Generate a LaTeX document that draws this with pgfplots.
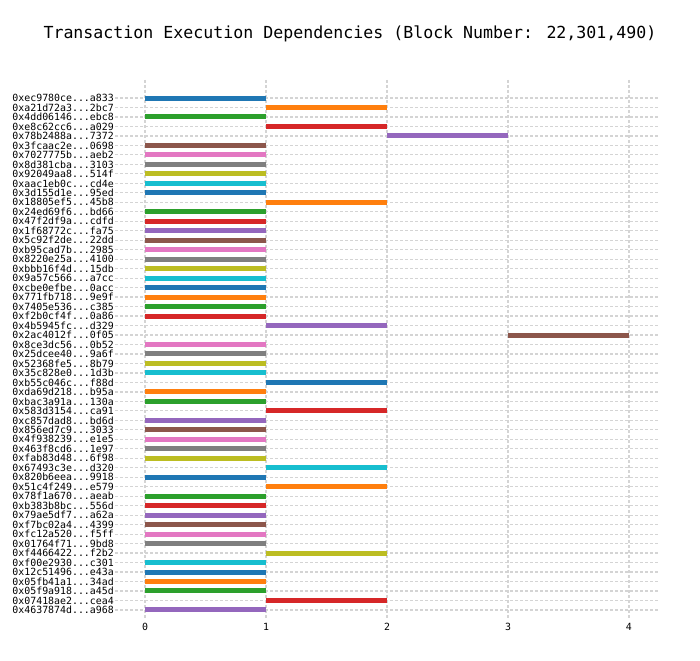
\documentclass[border=0pt]{standalone}
\usepackage{pgfplots}
\pgfplotsset{compat=1.18}
\usepackage{fontspec}
\setmainfont{DejaVu Sans Mono}
\setmonofont{DejaVu Sans Mono}
\newcommand\dd{...}
\definecolor{c0}{HTML}{1F77B4}
\definecolor{c1}{HTML}{FF7F0E}
\definecolor{c2}{HTML}{2CA02C}
\definecolor{c3}{HTML}{D62728}
\definecolor{c4}{HTML}{9467BD}
\definecolor{c5}{HTML}{8C564B}
\definecolor{c6}{HTML}{E377C2}
\definecolor{c7}{HTML}{7F7F7F}
\definecolor{c8}{HTML}{BCBD22}
\definecolor{c9}{HTML}{17BECF}
\definecolor{gridc}{HTML}{D4D4D4}
\begin{document}
\begin{tikzpicture}
\path[use as bounding box] (0,0) rectangle (700pt,660pt);
\node[font=\fontsize{16.6}{20}\selectfont] at (350pt,626pt) {Transaction Execution Dependencies (Block Number: 22,301,490)};
\begin{axis}[
  at={(115pt,42pt)}, anchor=south west,
  scale only axis, width=543pt, height=538pt,
  xmin=-0.248, xmax=4.24, ymin=-0.9, ymax=55.85,
  y dir=reverse,
  xtick={0,1,2,3,4},
  ytick={1,...,55},
  yticklabels={0xec9780ce\dd a833,0xa21d72a3\dd 2bc7,0x4dd06146\dd ebc8,0xe8c62cc6\dd a029,0x78b2488a\dd 7372,0x3fcaac2e\dd 0698,0x7027775b\dd aeb2,0x8d381cba\dd 3103,0x92049aa8\dd 514f,0xaac1eb0c\dd cd4e,0x3d155d1e\dd 95ed,0x18805ef5\dd 45b8,0x24ed69f6\dd bd66,0x47f2df9a\dd cdfd,0x1f68772c\dd fa75,0x5c92f2de\dd 22dd,0xb95cad7b\dd 2985,0x8220e25a\dd 4100,0xbbb16f4d\dd 15db,0x9a57c566\dd a7cc,0xcbe0efbe\dd 0acc,0x771fb718\dd 9e9f,0x7405e536\dd c385,0xf2b0cf4f\dd 0a86,0x4b5945fc\dd d329,0x2ac4012f\dd 0f05,0x8ce3dc56\dd 0b52,0x25dcee40\dd 9a6f,0x52368fe5\dd 8b79,0x35c828e0\dd 1d3b,0xb55c046c\dd f88d,0xda69d218\dd b95a,0xbac3a91a\dd 130a,0x583d3154\dd ca91,0xc857dad8\dd bd6d,0x856ed7c9\dd 3033,0x4f938239\dd e1e5,0x463f8cd6\dd 1e97,0xfab83d48\dd 6f98,0x67493c3e\dd d320,0x820b6eea\dd 9918,0x51c4f249\dd e579,0x78f1a670\dd aeab,0xb383b8bc\dd 556d,0x79ae5df7\dd a62a,0xf7bc02a4\dd 4399,0xfc12a520\dd f5ff,0x01764f71\dd 9bd8,0xf4466422\dd f2b2,0xf00e2930\dd c301,0x12c51496\dd e43a,0x05fb41a1\dd 34ad,0x05f9a918\dd a45d,0x07418ae2\dd cea4,0x4637874d\dd a968},
  grid=major,
  major grid style={gridc, line width=1.2pt, dash pattern=on 3pt off 2pt},
  axis line style={draw=none},
  tick style={draw=none},
  ticklabel style={font=\fontsize{9.9}{10}\selectfont},
  yticklabel style={inner sep=1pt},
  xticklabel style={yshift=-2pt},
  /pgf/number format/assume math mode=true,
  cycle list={{c0,line width=5pt,mark=none},{c1,line width=5pt,mark=none},{c2,line width=5pt,mark=none},{c3,line width=5pt,mark=none},{c4,line width=5pt,mark=none},{c5,line width=5pt,mark=none},{c6,line width=5pt,mark=none},{c7,line width=5pt,mark=none},{c8,line width=5pt,mark=none},{c9,line width=5pt,mark=none}},
]
\addplot coordinates {(0,1) (1,1)};
\addplot coordinates {(1,2) (2,2)};
\addplot coordinates {(0,3) (1,3)};
\addplot coordinates {(1,4) (2,4)};
\addplot coordinates {(2,5) (3,5)};
\addplot coordinates {(0,6) (1,6)};
\addplot coordinates {(0,7) (1,7)};
\addplot coordinates {(0,8) (1,8)};
\addplot coordinates {(0,9) (1,9)};
\addplot coordinates {(0,10) (1,10)};
\addplot coordinates {(0,11) (1,11)};
\addplot coordinates {(1,12) (2,12)};
\addplot coordinates {(0,13) (1,13)};
\addplot coordinates {(0,14) (1,14)};
\addplot coordinates {(0,15) (1,15)};
\addplot coordinates {(0,16) (1,16)};
\addplot coordinates {(0,17) (1,17)};
\addplot coordinates {(0,18) (1,18)};
\addplot coordinates {(0,19) (1,19)};
\addplot coordinates {(0,20) (1,20)};
\addplot coordinates {(0,21) (1,21)};
\addplot coordinates {(0,22) (1,22)};
\addplot coordinates {(0,23) (1,23)};
\addplot coordinates {(0,24) (1,24)};
\addplot coordinates {(1,25) (2,25)};
\addplot coordinates {(3,26) (4,26)};
\addplot coordinates {(0,27) (1,27)};
\addplot coordinates {(0,28) (1,28)};
\addplot coordinates {(0,29) (1,29)};
\addplot coordinates {(0,30) (1,30)};
\addplot coordinates {(1,31) (2,31)};
\addplot coordinates {(0,32) (1,32)};
\addplot coordinates {(0,33) (1,33)};
\addplot coordinates {(1,34) (2,34)};
\addplot coordinates {(0,35) (1,35)};
\addplot coordinates {(0,36) (1,36)};
\addplot coordinates {(0,37) (1,37)};
\addplot coordinates {(0,38) (1,38)};
\addplot coordinates {(0,39) (1,39)};
\addplot coordinates {(1,40) (2,40)};
\addplot coordinates {(0,41) (1,41)};
\addplot coordinates {(1,42) (2,42)};
\addplot coordinates {(0,43) (1,43)};
\addplot coordinates {(0,44) (1,44)};
\addplot coordinates {(0,45) (1,45)};
\addplot coordinates {(0,46) (1,46)};
\addplot coordinates {(0,47) (1,47)};
\addplot coordinates {(0,48) (1,48)};
\addplot coordinates {(1,49) (2,49)};
\addplot coordinates {(0,50) (1,50)};
\addplot coordinates {(0,51) (1,51)};
\addplot coordinates {(0,52) (1,52)};
\addplot coordinates {(0,53) (1,53)};
\addplot coordinates {(1,54) (2,54)};
\addplot coordinates {(0,55) (1,55)};
\end{axis}
\end{tikzpicture}
\end{document}
